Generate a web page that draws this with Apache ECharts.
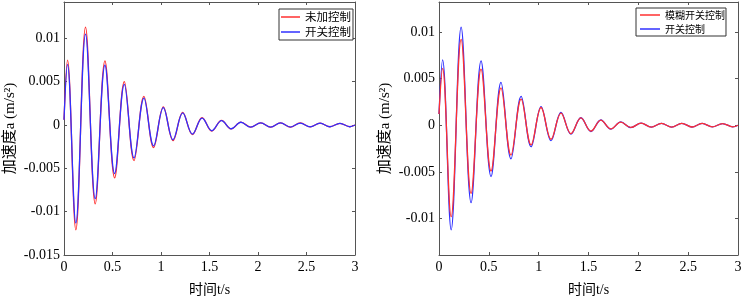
<!DOCTYPE html>
<html><head><meta charset="utf-8">
<script src="https://cdn.jsdelivr.net/npm/echarts@6/dist/echarts.min.js"></script>
<style>html,body{margin:0;padding:0;background:#fff}#c{width:746px;height:302px}</style>
</head><body><div id="c"></div>
<script>
// time of each read point (start, successive peaks/troughs, end), s
const t = [0, 0.036, 0.122, 0.222, 0.322, 0.422, 0.522, 0.622, 0.722, 0.824, 0.924, 1.024, 1.124, 1.224, 1.324, 1.424, 1.524, 1.624, 1.724, 1.824, 1.924, 2.028, 2.13, 2.232, 2.334, 2.436, 2.538, 2.64, 2.742, 2.845, 2.947, 3.0];
// left panel
const leftRed = [0.0006, 0.0075, -0.0121, 0.0113, -0.0091, 0.0074, -0.0061, 0.0050, -0.0041, 0.0033, -0.0026, 0.0021, -0.0018, 0.00145, -0.0011, 0.00085, -0.0007, 0.00053, -0.00045, 0.00034, -0.00025, 0.00026, -0.00025, 0.00025, -0.00024, 0.00024, -0.00022, 0.00022, -0.0002, 0.0002, -0.0002, 0];
const leftBlue = [0.0006, 0.0070, -0.0113, 0.0105, -0.0085, 0.0069, -0.0056, 0.0047, -0.0038, 0.0031, -0.0024, 0.0020, -0.0017, 0.0014, -0.00105, 0.0008, -0.00066, 0.0005, -0.00043, 0.00032, -0.00024, 0.00025, -0.00024, 0.00024, -0.00023, 0.00023, -0.00021, 0.00021, -0.0002, 0.0002, -0.0002, 0];
// right panel
const rightRed = [0.0012, 0.0061, -0.0098, 0.0092, -0.0073, 0.0060, -0.0049, 0.0040, -0.0032, 0.0028, -0.0021, 0.0019, -0.0015, 0.0013, -0.0009, 0.00078, -0.00063, 0.00054, -0.0004, 0.00034, -0.00024, 0.00022, -0.0002, 0.0002, -0.0002, 0.0002, -0.00019, 0.00019, -0.00018, 0.00018, -0.00017, 0];
const rightBlue = [0.0012, 0.0070, -0.0112, 0.0105, -0.0083, 0.0069, -0.0055, 0.0046, -0.0036, 0.0031, -0.0023, 0.0020, -0.00165, 0.00137, -0.00095, 0.0008, -0.00067, 0.00056, -0.00042, 0.00035, -0.00025, 0.00022, -0.0002, 0.0002, -0.0002, 0.0002, -0.00019, 0.00019, -0.00018, 0.00018, -0.00017, 0];

const leftNames = ['未加控制', '开关控制'];
const rightNames = ['模糊开关控制', '开关控制'];
const xTicks = [0, 0.5, 1, 1.5, 2, 2.5, 3];
const leftYTicks = [-0.015, -0.01, -0.005, 0, 0.005, 0.01];
const rightYTicks = [-0.01, -0.005, 0, 0.005, 0.01];
const xName = '时间t/s';
const yName = '加速度a (m/s²)';

const SERIF = "'Liberation Serif','Times New Roman','Noto Sans CJK SC',serif";
const AX = '#555';
const RED = '#ff3030';
const BLUE = '#3030ff';

function pairs(xs, ys) { return xs.map((x, i) => [x, ys[i]]); }

function xAxesFor(gi) {
  return [
    { type: 'value', gridIndex: gi, min: 0, max: 3, position: 'bottom',
      axisLine: { show: true, onZero: false, lineStyle: { color: AX } },
      axisTick: { show: true, inside: true, length: 3, customValues: xTicks, lineStyle: { color: AX } },
      axisLabel: { show: true, customValues: xTicks, color: '#000', fontSize: 14, fontFamily: SERIF, margin: 5 },
      splitLine: { show: false },
      name: xName, nameLocation: 'middle', nameGap: 28,
      nameTextStyle: { color: '#000', fontSize: 14, fontFamily: SERIF } },
    { type: 'value', gridIndex: gi, min: 0, max: 3, position: 'top',
      axisLine: { show: true, onZero: false, lineStyle: { color: AX } },
      axisTick: { show: true, inside: true, length: 3, customValues: xTicks, lineStyle: { color: AX } },
      axisLabel: { show: false }, splitLine: { show: false } }
  ];
}
function yAxesFor(gi, min, max, ticks) {
  return [
    { type: 'value', gridIndex: gi, min: min, max: max, position: 'left',
      axisLine: { show: true, onZero: false, lineStyle: { color: AX } },
      axisTick: { show: true, inside: true, length: 3, customValues: ticks, lineStyle: { color: AX } },
      axisLabel: { show: true, customValues: ticks, color: '#000', fontSize: 14, fontFamily: SERIF, margin: 4 },
      splitLine: { show: false },
      name: yName, nameLocation: 'middle', nameGap: 46,
      nameTextStyle: { color: '#000', fontSize: 15, fontFamily: SERIF } },
    { type: 'value', gridIndex: gi, min: min, max: max, position: 'right',
      axisLine: { show: true, onZero: false, lineStyle: { color: AX } },
      axisTick: { show: true, inside: true, length: 3, customValues: ticks, lineStyle: { color: AX } },
      axisLabel: { show: false }, splitLine: { show: false } }
  ];
}
function line(name, data, color, xi, yi, z) {
  return { type: 'line', name: name, data: data, xAxisIndex: xi, yAxisIndex: yi,
    symbol: 'none', smooth: 0.38, z: z, animation: false,
    lineStyle: { color: color, width: 1.3 }, itemStyle: { color: color } };
}

const chart = echarts.init(document.getElementById('c'), null, { renderer: 'canvas' });
chart.setOption({
  animation: false,
  backgroundColor: '#fff',
  grid: [
    { left: 64, top: 2, width: 291, height: 257 },
    { left: 439, top: 2, width: 299, height: 257 }
  ],
  xAxis: [].concat(xAxesFor(0), xAxesFor(1)),
  yAxis: [].concat(yAxesFor(0, -0.015, 0.0142, leftYTicks), yAxesFor(1, -0.0139, 0.0132, rightYTicks)),
  legend: [
    { data: leftNames, orient: 'vertical', left: 279, top: 9, icon: 'rect', itemWidth: 19, itemHeight: 1.5, itemGap: 3,
      padding: [2, 2, 2, 2], borderColor: '#333', borderWidth: 1, backgroundColor: '#fff', borderRadius: 0,
      textStyle: { fontSize: 11.5, color: '#000', fontFamily: "'Noto Sans CJK SC',sans-serif", lineHeight: 12 }, selectedMode: false },
    { data: rightNames, orient: 'vertical', left: 636, top: 8, icon: 'rect', itemWidth: 20, itemHeight: 1.5, itemGap: 4,
      padding: [2, 1, 2, 4], borderColor: '#333', borderWidth: 1, backgroundColor: '#fff', borderRadius: 0,
      textStyle: { fontSize: 10, color: '#000', fontFamily: "'Noto Sans CJK SC',sans-serif", lineHeight: 10 }, selectedMode: false }
  ],
  series: [
    line(leftNames[0], pairs(t, leftRed), RED, 0, 0, 2),
    line(leftNames[1], pairs(t, leftBlue), BLUE, 0, 0, 3),
    line(rightNames[0], pairs(t, rightRed), RED, 2, 2, 3),
    line(rightNames[1], pairs(t, rightBlue), BLUE, 2, 2, 2)
  ]
});
</script></body></html>
